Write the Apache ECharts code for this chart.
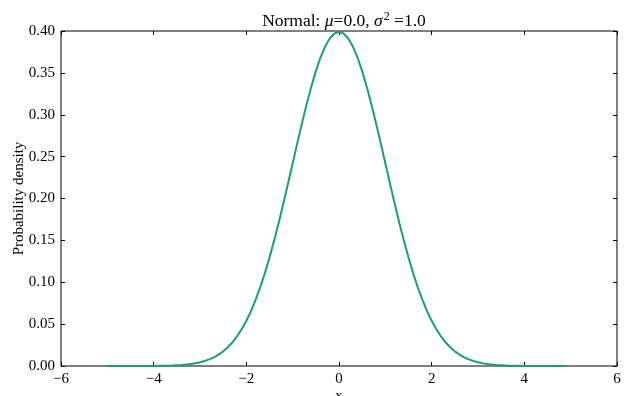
<!DOCTYPE html>
<html><head><meta charset="utf-8">
<script src="https://cdn.jsdelivr.net/npm/echarts@6/dist/echarts.min.js"></script>
<style>html,body{margin:0;padding:0;background:#fff}#c{width:636px;height:396px}</style>
</head><body><div id="c"></div>
<script>
const xValues = [-5.0,-4.9,-4.8,-4.7,-4.6,-4.5,-4.4,-4.3,-4.2,-4.1,-4.0,-3.9,-3.8,-3.7,-3.6,-3.5,-3.4,-3.3,-3.2,-3.1,-3.0,-2.9,-2.8,-2.7,-2.6,-2.5,-2.4,-2.3,-2.2,-2.1,-2.0,-1.9,-1.8,-1.7,-1.6,-1.5,-1.4,-1.3,-1.2,-1.1,-1.0,-0.9,-0.8,-0.7,-0.6,-0.5,-0.4,-0.3,-0.2,-0.1,0.0,0.1,0.2,0.3,0.4,0.5,0.6,0.7,0.8,0.9,1.0,1.1,1.2,1.3,1.4,1.5,1.6,1.7,1.8,1.9,2.0,2.1,2.2,2.3,2.4,2.5,2.6,2.7,2.8,2.9,3.0,3.1,3.2,3.3,3.4,3.5,3.6,3.7,3.8,3.9,4.0,4.1,4.2,4.3,4.4,4.5,4.6,4.7,4.8,4.9];
const densityValues = [0.0000,0.0000,0.0000,0.0000,0.0000,0.0000,0.0000,0.0000,0.0001,0.0001,0.0001,0.0002,0.0003,0.0004,0.0006,0.0009,0.0012,0.0017,0.0024,0.0033,0.0044,0.0060,0.0079,0.0104,0.0136,0.0175,0.0224,0.0283,0.0355,0.0440,0.0540,0.0656,0.0790,0.0940,0.1109,0.1295,0.1497,0.1714,0.1942,0.2179,0.2420,0.2661,0.2897,0.3123,0.3332,0.3521,0.3683,0.3814,0.3910,0.3970,0.3989,0.3970,0.3910,0.3814,0.3683,0.3521,0.3332,0.3123,0.2897,0.2661,0.2420,0.2179,0.1942,0.1714,0.1497,0.1295,0.1109,0.0940,0.0790,0.0656,0.0540,0.0440,0.0355,0.0283,0.0224,0.0175,0.0136,0.0104,0.0079,0.0060,0.0044,0.0033,0.0024,0.0017,0.0012,0.0009,0.0006,0.0004,0.0003,0.0002,0.0001,0.0001,0.0001,0.0000,0.0000,0.0000,0.0000,0.0000,0.0000,0.0000];
const xTicks = [-6,-4,-2,0,2,4,6];
const yTicks = [0,0.05,0.10,0.15,0.20,0.25,0.30,0.35,0.40];
const titleText = {pre:'Normal: ', mu:'μ', mid:'=0.0, ', sigma:'σ', sup:'2', post:' =1.0'};

const FONT = '"Liberation Serif","DejaVu Serif",serif';
const chart = echarts.init(document.getElementById('c'), null, {renderer:'canvas'});
const tickStyle = {show:true, inside:true, length:4, lineStyle:{color:'#000', width:1}};
const noLine = {show:false, onZero:false};
const fmtX = v => (v < 0 ? '\u2212' + Math.abs(v) : String(v));
const fmtY = v => v.toFixed(2);
const xMin = xTicks[0], xMax = xTicks[xTicks.length-1], xInt = xTicks[1]-xTicks[0];
const yMin = yTicks[0], yMax = yTicks[yTicks.length-1], yInt = yTicks[1]-yTicks[0];

chart.setOption({
  animation:false,
  backgroundColor:'#fff',
  title:{
    left:339, top:6, textAlign:'center',
    text:'{n|'+titleText.pre+'}{i|'+titleText.mu+'}{n|'+titleText.mid+'}{i|'+titleText.sigma+'}{s|'+titleText.sup+'}{n|'+titleText.post+'}',
    textStyle:{
      fontWeight:'normal',
      rich:{
        n:{fontFamily:FONT, fontSize:17.5, fontWeight:'normal', color:'#000'},
        i:{fontFamily:FONT, fontSize:17.5, fontStyle:'italic', fontWeight:'normal', color:'#000'},
        s:{fontFamily:FONT, fontSize:12, fontWeight:'normal', color:'#000', verticalAlign:'top', padding:[0,0,8,1]}
      }
    }
  },
  grid:{left:61, right:19, top:31, bottom:30, show:true, borderColor:'#000', borderWidth:1, backgroundColor:'transparent', containLabel:false, outerBoundsMode:'none'},
  xAxis:[
    {type:'value', min:xMin, max:xMax, interval:xInt, position:'bottom',
     name:'x', nameLocation:'middle', nameGap:23, nameMoveOverlap:false,
     nameTextStyle:{fontFamily:FONT, fontSize:15, color:'#000'},
     axisLine:noLine, axisTick:tickStyle, splitLine:{show:false},
     axisLabel:{fontFamily:FONT, fontSize:15, color:'#000', margin:6, formatter:fmtX}},
    {type:'value', min:xMin, max:xMax, interval:xInt, position:'top',
     axisLine:noLine, axisTick:tickStyle, splitLine:{show:false}, axisLabel:{show:false}}
  ],
  yAxis:[
    {type:'value', min:yMin, max:yMax, interval:yInt, position:'left',
     name:'Probability density', nameLocation:'middle', nameGap:34, nameRotate:90, nameMoveOverlap:false,
     nameTextStyle:{fontFamily:FONT, fontSize:15, color:'#000'},
     axisLine:noLine, axisTick:tickStyle, splitLine:{show:false},
     axisLabel:{fontFamily:FONT, fontSize:15, color:'#000', margin:6, formatter:fmtY}},
    {type:'value', min:yMin, max:yMax, interval:yInt, position:'right',
     axisLine:noLine, axisTick:tickStyle, splitLine:{show:false}, axisLabel:{show:false}}
  ],
  series:[{
    type:'line', xAxisIndex:0, yAxisIndex:0, showSymbol:false, smooth:false,
    data: xValues.map((x,i)=>[x, densityValues[i]]),
    lineStyle:{color:'#1b9e77', width:2},
    z:1
  }]
});
</script></body></html>
